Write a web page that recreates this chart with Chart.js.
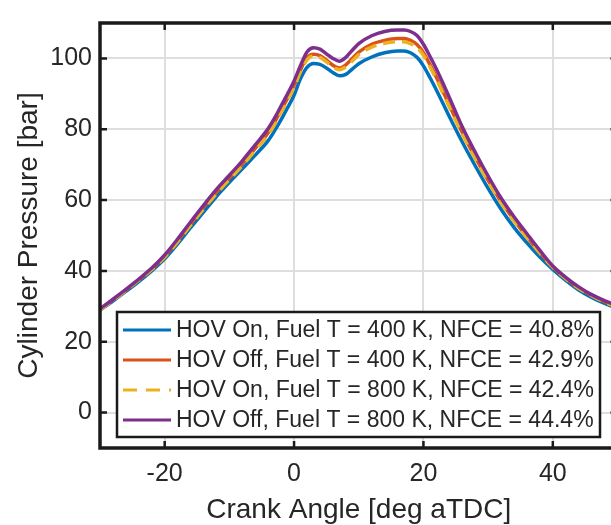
<!DOCTYPE html>
<html><head><meta charset="utf-8">
<script src="https://cdn.jsdelivr.net/npm/chart.js@4/dist/chart.umd.min.js"></script>
<style>
html,body{margin:0;padding:0;background:#fff;overflow:hidden;}
#wrap{position:relative;width:620px;height:525px;}
</style></head><body>
<div id="wrap"><canvas id="c"></canvas></div>
<script>
// Crank angle [deg aTDC]
const crankAngle = [-30,-28,-26,-24,-22,-20,-18,-16,-14,-12,-10,-8,-6,-4,
  -3,-2,-1,0,1,2,3,4,5,6,7,8,9,10,
  12,14,16,
  17,18,19,20,21,22,
  24,26,28,30,32,34,36,38,40,42,44,46,48,50];

// Cylinder pressure [bar]
const hovOn400 = [28.9,31.5,34.2,37,40,43.4,47.6,52.2,56.6,61,65,68.8,72.7,76.8,
  79.6,82.7,86.1,89.6,94.3,97.5,98.6,98.3,97.3,96,95.1,95.5,97,98.5,
  100.4,101.6,102.1,
  102.1,101.6,100.3,97.9,94.6,91.1,
  83.6,76.4,69.7,63.3,57.4,52.3,47.9,43.9,40.4,37.3,34.6,32.5,30.8,29.4];

const hovOff400 = [29.1,31.8,34.6,37.5,40.5,44.1,48.5,53.2,57.9,62.2,66.2,70.2,74.6,79,
  82,85.4,88.8,92.4,96.8,100.2,101.2,100.8,99.5,98.1,97.3,98.2,100,101.8,
  104,105.1,105.6,
  105.6,105.1,103.9,101.6,98.3,94.7,
  86.8,79.1,72.1,65.6,59.6,54.4,49.6,45.2,41.1,37.9,35.2,33.1,31.3,29.9];

const hovOn800 = [29,31.7,34.5,37.4,40.4,43.9,48.2,52.9,57.5,61.8,65.8,69.7,74.1,78.5,
  81.4,84.8,88.3,91.8,96.2,99.6,100.7,100.3,99,97.6,96.8,97.6,99.3,101.1,
  103.2,104.3,104.7,
  104.7,104.2,103.1,100.9,97.7,94.1,
  86.3,78.7,71.8,65.3,59.3,54.1,49.4,45,41,37.8,35.1,33,31.2,29.8];

const hovOff800 = [29.3,32,34.8,37.7,40.8,44.5,49,53.8,58.5,63,67,71.1,75.6,80.2,
  83.2,86.6,90,93.6,98,101.8,103,102.6,101.3,100,99.2,100.3,102.3,104.2,
  106.4,107.6,108,
  108,107.6,106.5,104,100.6,97,
  89,80.7,73.5,66.8,60.6,55.3,50.5,45.8,41.4,38.2,35.5,33.3,31.6,30.2];

const seriesLabels = [
  'HOV On, Fuel T = 400 K, NFCE = 40.8%',
  'HOV Off, Fuel T = 400 K, NFCE = 42.9%',
  'HOV On, Fuel T = 800 K, NFCE = 42.4%',
  'HOV Off, Fuel T = 800 K, NFCE = 44.4%'
];
const xTicks = [-20,0,20,40];
const yTicks = [0,20,40,60,80,100];
const xTitle = 'Crank Angle [deg aTDC]';
const yTitle = 'Cylinder Pressure [bar]';

const FONT = "'Liberation Sans', Arial, Helvetica, sans-serif";
const TEXT = '#262626';

const toXY = arr => crankAngle.map((x,i)=>({x:x, y:arr[i]}));

const colors = ['#0072BD','#D95319','#EDB120','#7E2F8E'];
const seriesData = [hovOn400, hovOff400, hovOn800, hovOff800];
const dashes = [[],[],[12,7],[]];
const orders = [4,3,2,1];

const datasets = seriesData.map((arr,i)=>({
  label: seriesLabels[i],
  data: toXY(arr),
  borderColor: colors[i],
  backgroundColor: colors[i],
  borderWidth: 3.5,
  borderDash: dashes[i],
  pointRadius: 0,
  fill: false,
  cubicInterpolationMode: 'monotone',
  order: orders[i]
}));

const boxPlugin = {
  id: 'boxTicks',
  afterDatasetsDraw(chart){
    const {ctx, chartArea:a, scales:{x, y}} = chart;
    ctx.save();
    ctx.strokeStyle = '#1a1a1a';
    ctx.lineWidth = 2.5;
    ctx.beginPath();
    const tl = 7;
    x.ticks.forEach(t=>{
      const p = x.getPixelForValue(t.value);
      ctx.moveTo(p, a.bottom); ctx.lineTo(p, a.bottom - tl);
      ctx.moveTo(p, a.top); ctx.lineTo(p, a.top + tl);
    });
    y.ticks.forEach(t=>{
      const p = y.getPixelForValue(t.value);
      ctx.moveTo(a.left, p); ctx.lineTo(a.left + tl, p);
      ctx.moveTo(a.right, p); ctx.lineTo(a.right - tl, p);
    });
    ctx.stroke();
    ctx.lineWidth = 3.5;
    ctx.strokeRect(a.left, a.top, a.right - a.left, a.bottom - a.top);
    ctx.restore();
  }
};

const legendPlugin = {
  id: 'insideLegend',
  afterDraw(chart){
    const {ctx} = chart;
    const bx = 117, by = 312, bw = 483, bh = 125;
    ctx.save();
    ctx.fillStyle = '#ffffff';
    ctx.fillRect(bx, by, bw, bh);
    ctx.strokeStyle = '#1a1a1a';
    ctx.lineWidth = 2.5;
    ctx.strokeRect(bx, by, bw, bh);
    ctx.font = '23px ' + FONT;
    ctx.textBaseline = 'middle';
    ctx.textAlign = 'left';
    chart.data.datasets.forEach((ds,i)=>{
      const cy = by + 18 + i*30;
      ctx.strokeStyle = ds.borderColor;
      ctx.lineWidth = 3;
      ctx.setLineDash(ds.borderDash && ds.borderDash.length ? [14,9] : []);
      ctx.beginPath();
      ctx.moveTo(bx + 6, cy); ctx.lineTo(bx + 54, cy);
      ctx.stroke();
      ctx.setLineDash([]);
      ctx.fillStyle = TEXT;
      ctx.fillText(ds.label, bx + 59, cy + 1);
    });
    ctx.restore();
  }
};

new Chart(document.getElementById('c'), {
  type: 'line',
  data: { datasets },
  options: {
    responsive: true,
    maintainAspectRatio: false,
    animation: false,
    layout: { padding: { top: 16, right: 2.5, left: 0, bottom: 0 } },
    plugins: { legend: { display: false }, tooltip: { enabled: false } },
    scales: {
      x: {
        type: 'linear', min: -30, max: 50,
        afterBuildTicks: s => { s.ticks = xTicks.map(v=>({value:v})); },
        afterFit: s => { s.height = 77; },
        grid: { color: '#dedede', lineWidth: 2, drawTicks: false },
        border: { display: false },
        ticks: { color: TEXT, font: { family: FONT, size: 25 }, padding: 11, maxRotation: 0 },
        title: { display: true, text: xTitle, color: TEXT, font: { family: FONT, size: 28, lineHeight: 1.0 }, padding: { top: 0, bottom: 1 } }
      },
      y: {
        type: 'linear', min: -10, max: 110,
        afterBuildTicks: s => { s.ticks = yTicks.map(v=>({value:v})); },
        afterFit: s => { s.width = 100; },
        grid: { color: '#dedede', lineWidth: 2, drawTicks: false },
        border: { display: false },
        ticks: { color: TEXT, font: { family: FONT, size: 25 }, padding: 8 },
        title: { display: true, text: yTitle, color: TEXT, font: { family: FONT, size: 28, lineHeight: 1.2 }, padding: { top: 12, bottom: 0 } }
      }
    }
  },
  plugins: [boxPlugin, legendPlugin]
});
</script>
</body></html>
